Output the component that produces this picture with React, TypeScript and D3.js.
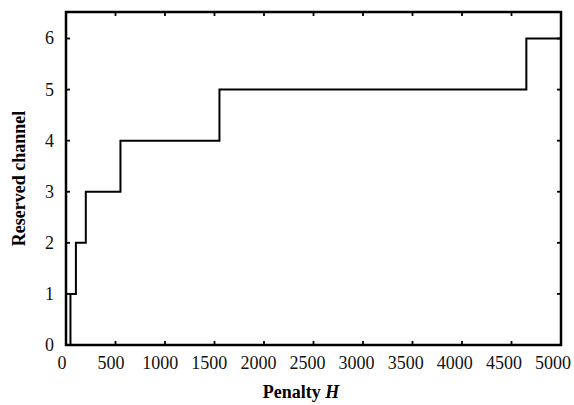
import React from 'react';
import * as d3 from 'd3';

// step points of the curve (H where the reserved channel count changes)
const penalty = [45, 45, 100, 200, 550, 1550, 4650, 5000];
const reserved = [0, 1, 2, 3, 4, 5, 6, 6];
const xTicks = [0, 500, 1000, 1500, 2000, 2500, 3000, 3500, 4000, 4500, 5000];
const yTicks = [0, 1, 2, 3, 4, 5, 6];

const W = 574;
const H = 405;
const left = 66;
const right = 561;
const top = 12;
const bottom = 345;

const font = "'Liberation Serif', 'DejaVu Serif', serif";

export default function App() {
  const x = d3.scaleLinear().domain([0, 5000]).range([left, right]);
  const y = d3.scaleLinear().domain([0, 6]).range([bottom, 38.5]);
  // tick labels sit a little left of their ticks in the original
  const xl = d3.scaleLinear().domain([0, 5000]).range([62, 553]);

  const pts = penalty.map((p, i) => [p, reserved[i]] as [number, number]);
  const line = d3
    .line<[number, number]>()
    .x((d) => x(d[0]))
    .y((d) => y(d[1]))
    .curve(d3.curveStepAfter);

  const tk = 4;
  const ts = { fontFamily: font };

  return (
    <svg
      width={W}
      height={H}
      style={{ position: 'absolute', left: 0, top: 0, background: '#fff' }}
    >
      <rect x={0} y={0} width={W} height={H} fill="#fff" />
      <path d={line(pts) || ''} fill="none" stroke="#000" strokeWidth={2} />

      {xTicks.map((t) => (
        <g key={'x' + t}>
          <line x1={x(t)} x2={x(t)} y1={bottom} y2={bottom - tk} stroke="#000" strokeWidth={1.8} />
          <line x1={x(t)} x2={x(t)} y1={top} y2={top + tk} stroke="#000" strokeWidth={1.8} />
          <text x={xl(t)} y={369} fontSize={18} textAnchor="middle" fill="#111" style={ts}>
            {t}
          </text>
        </g>
      ))}

      {yTicks.map((t) => (
        <g key={'y' + t}>
          <line x1={left} x2={left + tk} y1={y(t)} y2={y(t)} stroke="#000" strokeWidth={1.8} />
          <line x1={right} x2={right - tk} y1={y(t)} y2={y(t)} stroke="#000" strokeWidth={1.8} />
          <text x={54} y={y(t)} dy="0.33em" fontSize={18} textAnchor="end" fill="#111" style={ts}>
            {t}
          </text>
        </g>
      ))}

      <rect
        x={left}
        y={top}
        width={right - left}
        height={bottom - top}
        fill="none"
        stroke="#000"
        strokeWidth={2.5}
      />

      <text x={301} y={398} fontSize={18} fontWeight="bold" textAnchor="middle" fill="#000" style={ts}>
        Penalty <tspan fontStyle="italic">H</tspan>
      </text>
      <text
        transform={`translate(25,${(top + bottom) / 2}) rotate(-90)`}
        fontSize={18}
        fontWeight="bold"
        textAnchor="middle"
        fill="#000"
        style={ts}
      >
        Reserved channel
      </text>
    </svg>
  );
}
